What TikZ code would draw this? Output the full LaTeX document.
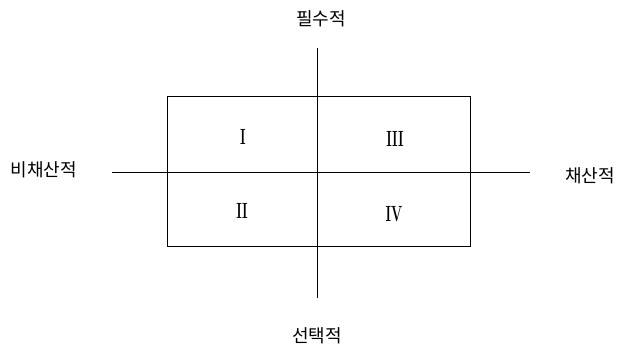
\documentclass[tikz,border=0pt]{standalone}
\usepackage{fontspec}
\newfontfamily\kor{Noto Sans CJK KR}
\usetikzlibrary{positioning}
\newcommand{\quadnum}[1]{\scalebox{0.6}[1]{#1}}
\tikzset{
	axislabel/.style={font=\kor\fontsize{18}{20}\selectfont, inner sep=1pt},
	quadlabel/.style={font=\bfseries\fontsize{22}{24}\selectfont, inner sep=1pt}
}
\begin{document}
\begin{tikzpicture}[x=1pt, y=-1pt, line width=1pt]
		\useasboundingbox (0,0) rectangle (620,350);
		
		% Сетка
		\begin{scope}
			\coordinate (top) at (317, 48);
			\coordinate (bottom) at (317, 298);
			\coordinate (left) at (112, 172);
			\coordinate (right) at (530, 172);
			\coordinate (nw) at (167, 97);
			\coordinate (se) at (470, 246);
			\draw (nw) rectangle (se);
			\draw (top) -- (bottom);
			\draw (left) -- (right);
		\end{scope}
		
		% Подписи осей
		\node[axislabel] (must) at (321, 19) {필수적};
		\node[axislabel] (choice) at (317, 336) {선택적};
		\node[axislabel] (nonprofit) at (44, 170) {비채산적};
		\node[axislabel] (profit) at (590, 176) {채산적};
		
		% Квадранты
		\node[quadlabel] (q1) at (243, 137) {\quadnum{I}};
		\node[quadlabel] (q3) at (395, 139) {\quadnum{III}};
		\node[quadlabel] (q2) at (242, 211) {\quadnum{II}};
		\node[quadlabel] (q4) at (394, 214) {\quadnum{IV}};
	\end{tikzpicture}
\end{document}
